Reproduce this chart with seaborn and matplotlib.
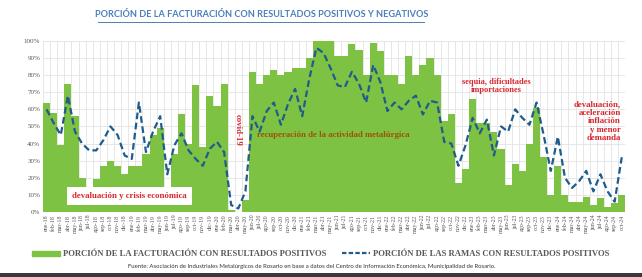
import matplotlib.pyplot as plt
import matplotlib.patches as mpatches
import matplotlib.lines as mlines
import numpy as np
import pandas as pd
import seaborn as sns

months = ["ene", "feb", "mar", "abr", "may", "jun", "jul", "ago", "sep", "oct", "nov", "dic"]
labels = [f"{m}-{y}" for y in range(18, 25) for m in months][:82]

# porcion de la facturacion con resultados positivos (%)
facturacion = [64, 58, 39, 75, 56, 20, 14, 19, 27, 30, 27, 22,
               27, 27, 34, 45, 49, 14, 34, 57, 40, 74, 38, 68,
               62, 75, 1, 0, 7, 82, 75, 80, 83, 80, 82, 84,
               84, 90, 100, 100, 100, 91, 91, 98, 95, 80, 99, 94,
               80, 80, 75, 91, 80, 86, 90, 80, 53, 57, 17, 25,
               66, 52, 52, 47, 37, 16, 28, 24, 40, 61, 32, 10,
               27, 10, 6, 6, 9, 4, 8, 3, 5, 10]

# porcion de las ramas con resultados positivos (%)
ramas = [60, 52, 45, 68, 47, 40, 36, 36, 42, 50, 45, 33,
         31, 64, 35, 47, 56, 22, 39, 46, 36, 31, 27, 37,
         41, 35, 4, 2, 12, 56, 47, 59, 64, 51, 63, 72,
         56, 78, 96, 93, 84, 74, 73, 82, 75, 64, 86, 76,
         59, 64, 60, 65, 68, 57, 65, 64, 41, 40, 27, 39,
         55, 46, 54, 33, 50, 47, 60, 55, 51, 64, 45, 24,
         44, 20, 14, 18, 24, 12, 22, 12, 6, 32]

df = pd.DataFrame({"mes": labels, "idx": np.arange(len(labels)),
                   "facturacion": facturacion, "ramas": ramas})

green = "#7DC243"
blue = "#1F5C8B"
red = "#D9262E"

fig = plt.figure(figsize=(6.42, 2.77), dpi=100)
ax = fig.add_axes([0.067, 0.235, 0.907, 0.617])

sns.barplot(data=df, x="mes", y="facturacion", color=green, width=1.0,
            saturation=1, ax=ax, zorder=2)
sns.lineplot(data=df, x="idx", y="ramas", color=blue, linewidth=1.6,
             linestyle=(0, (3, 1.6)), ax=ax, zorder=3)

ax.set_ylim(0, 100)
ax.set_xlim(-0.5, len(labels) - 0.5)
ax.set_yticks(range(0, 101, 10))
ax.set_yticklabels([f"{v}%" for v in range(0, 101, 10)],
                   fontsize=5, family="Liberation Serif", color="#595959")
ax.set_xticks(range(len(labels)))
ax.set_xticklabels(labels, rotation=90, fontsize=4.3,
                   family="Liberation Serif", color="#595959")
ax.set_xticks(np.arange(-0.5, len(labels), 1), minor=True)
ax.tick_params(axis="both", length=0, pad=2)
ax.tick_params(axis="x", which="minor", length=0)
ax.set_xlabel("")
ax.set_ylabel("")
ax.grid(axis="y", color="#E3E3E3", linewidth=0.6, zorder=0)
ax.grid(axis="x", which="minor", color="#E3E3E3", linewidth=0.6, zorder=0)
ax.set_axisbelow(True)
for s in ax.spines.values():
    s.set_visible(False)

serif = "Liberation Serif"
ax.text(11.7, 9.5, "devaluación y crisis económica", color=red, fontsize=6.3,
        family=serif, weight="bold", ha="center", va="center",
        bbox=dict(facecolor="white", edgecolor="none", pad=3.5), zorder=4)
ax.text(26.9, 48, "covid-19", color=red, fontsize=6.3, family=serif,
        weight="bold", rotation=270, ha="center", va="center", zorder=4)
ax.text(29.6, 45, "recuperación de la actividad metalúrgica", color="#A0500A",
        fontsize=6.3, family=serif, weight="bold", ha="left", va="center", zorder=4)
ax.text(63.3, 73.5, "sequia, dificultades\nimportaciones", color=red, fontsize=6,
        family=serif, weight="bold", ha="center", va="center",
        linespacing=1.0, zorder=4)
ax.text(80.9, 53, "devaluación,\naceleración\ninflación\ny menor\ndemanda",
        color=red, fontsize=6.3, family=serif, weight="bold", ha="right",
        va="center", linespacing=1.05, zorder=4)

fig.text(0.407, 0.948, "PORCIÓN DE LA FACTURACIÓN CON RESULTADOS POSITIVOS Y NEGATIVOS",
         color="#4A7EBB", fontsize=6.6, family="Lato", weight="bold",
         ha="center", va="center")
fig.add_artist(mlines.Line2D([0.153, 0.661], [0.922, 0.922], color="#4A7EBB",
                             linewidth=0.7))

h_bar = mpatches.Patch(color=green)
h_line = mlines.Line2D([], [], color=blue, linewidth=1.6, linestyle=(0, (2, 1)))
fig.legend([h_bar, h_line],
           ["PORCIÓN DE LA FACTURACIÓN CON RESULTADOS POSITIVOS",
            "PORCIÓN DE LAS RAMAS CON RESULTADOS POSITIVOS"],
           loc="center", bbox_to_anchor=(0.5, 0.082), ncol=2, frameon=False,
           prop=dict(family=serif, weight="bold", size=6.2),
           labelcolor="#595959", handlelength=3.2, handleheight=0.6,
           columnspacing=1.8, handletextpad=0.4)

fig.text(0.485, 0.037, "Fuente: Asociación de Industriales Metalúrgicos de Rosario en base a datos "
         "del Centro de Información Económica, Municipalidad de Rosario.",
         fontsize=4.3, family="Lato", color="#333333", ha="center", va="center")
fig.add_artist(mpatches.Rectangle((0, 0), 1, 0.016, transform=fig.transFigure,
                                  facecolor="#3A3A3A", edgecolor="none"))

fig.savefig("out.png", dpi=100)
